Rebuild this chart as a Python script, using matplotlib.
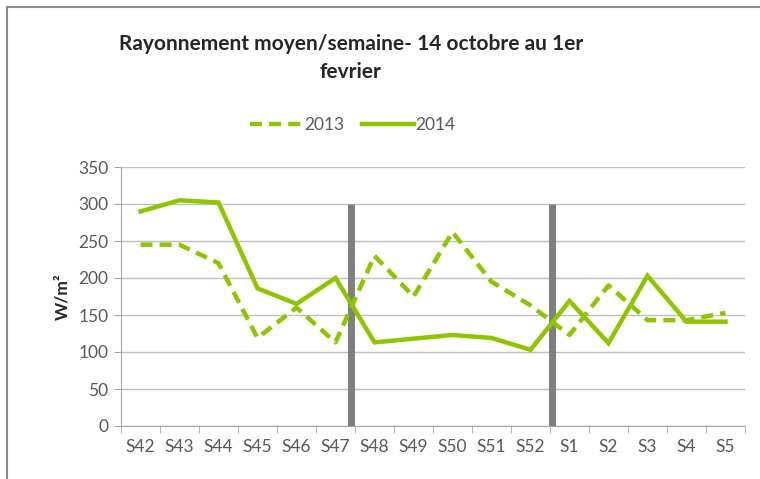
import matplotlib.pyplot as plt
from matplotlib.patches import Rectangle

plt.rcParams['font.family'] = ['Lato', 'DejaVu Sans']

semaines = ["S42", "S43", "S44", "S45", "S46", "S47", "S48", "S49", "S50",
            "S51", "S52", "S1", "S2", "S3", "S4", "S5"]
val_2013 = [245, 245, 220, 119, 160, 113, 230, 175, 262, 195, 163, 123, 190, 143, 143, 153]
val_2014 = [290, 305, 302, 186, 165, 200, 113, 118, 123, 119, 103, 169, 112, 203, 141, 141]
# limites de periode (positions en index de categorie) et hauteur des barres
separateurs = [5.4, 10.55]
hauteur_sep = 300

vert = "#8fc400"
gris_txt = "#595959"

fig = plt.figure(figsize=(7.6, 4.79), dpi=100)
ax = fig.add_axes([121 / 760, 1 - 426 / 479, 624 / 760, 259 / 479])

x = list(range(len(semaines)))
ax.plot(x, val_2013, color=vert, lw=3.2, linestyle=(0, (2.7, 1.6)), label="2013",
        solid_capstyle="butt", dash_capstyle="butt")
ax.plot(x, val_2014, color=vert, lw=3.2, label="2014", solid_joinstyle="miter")

for s in separateurs:
    ax.plot([s, s], [0, hauteur_sep], color="#7f7f7f", lw=5, solid_capstyle="butt", zorder=1)

ax.set_xlim(-0.5, len(semaines) - 0.5)
ax.set_ylim(0, 350)
ax.set_yticks(range(0, 351, 50))
ax.set_xticks(x)
ax.set_xticklabels(semaines)
ax.set_xticks([i - 0.5 for i in range(len(semaines) + 1)], minor=True)
ax.tick_params(axis="x", which="major", length=0, pad=9, labelsize=12.5, labelcolor=gris_txt)
ax.tick_params(axis="x", which="minor", length=5, color="#a6a6a6")
ax.tick_params(axis="y", length=5, color="#a6a6a6", labelsize=12.5, labelcolor=gris_txt, pad=4)
ax.grid(axis="y", color="#bfbfbf", lw=1)
ax.set_axisbelow(True)
for side in ["top", "right"]:
    ax.spines[side].set_visible(False)
for side in ["left", "bottom"]:
    ax.spines[side].set_color("#a6a6a6")

ax.set_ylabel("W/m²", fontsize=12.5, fontweight="bold", color="#262626", labelpad=6)

fig.text(351 / 760, 1 - 58 / 479, "Rayonnement moyen/semaine- 14 octobre au 1er\nfevrier",
         ha="center", va="center", fontsize=15, fontweight="bold", color="#262626",
         linespacing=1.45)

ax.legend(loc="center", bbox_to_anchor=(353 / 760, 1 - 125 / 479), bbox_transform=fig.transFigure,
          ncol=2, frameon=False, fontsize=12.5, handlelength=3.0, columnspacing=1.0,
          handletextpad=0.1, labelcolor=gris_txt)

# cadre exterieur du graphique
fig.patches.append(Rectangle((7 / 760, -0.1), 1, 1 - 7 / 479 + 0.1, transform=fig.transFigure,
                             fill=False, edgecolor="#8c8c8c", lw=1.5))

fig.savefig("out.png", dpi=100)
